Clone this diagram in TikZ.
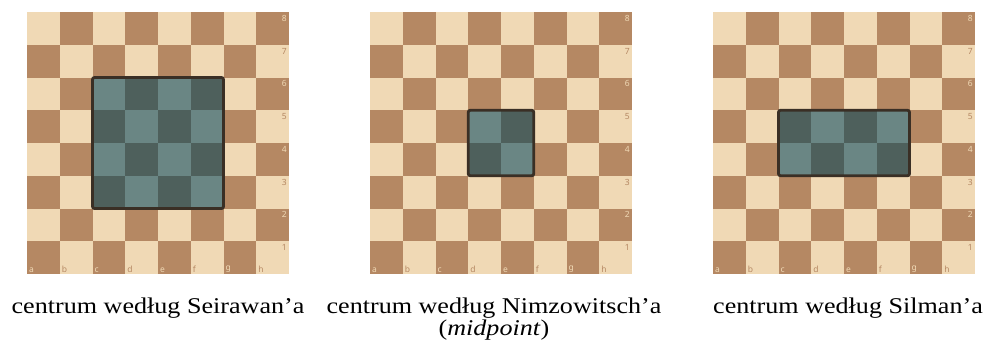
\documentclass[tikz,border=0pt]{standalone}
\usepackage{fontspec}
\usepackage{graphicx}
\setmainfont{Liberation Serif}
\newfontfamily\labfont{Noto Sans}
\definecolor{lsq}{HTML}{F0D9B5}
\definecolor{dsq}{HTML}{B58863}
\definecolor{lhl}{HTML}{6A8684}
\definecolor{dhl}{HTML}{4E605C}
\definecolor{hlborder}{HTML}{3A2F25}
\tikzset{
  sqlabel/.style={font=\labfont\fontsize{8.5}{9}\selectfont, inner sep=0pt},
  caption/.style={anchor=base, inner sep=0pt, font=\fontsize{22.5}{24}\selectfont},
  hlframe/.style={draw=hlborder, line width=2.8pt, rounded corners=2pt},
}
% #1 left x, #2 name, #3 fmin, #4 fmax, #5 rowmin, #6 rowmax (rows from top, 0-based)
\newcommand{\mychessboard}[6]{%
  \foreach \i in {0,...,7}{%
    \foreach \j in {0,...,7}{%
      \pgfmathtruncatemacro\sqpar{mod(\i+\j,2)}%
      \pgfmathtruncatemacro\inhl{and(and(\i>=#3,\i<=#4),and(\j>=#5,\j<=#6))}%
      \ifnum\inhl=1
        \ifnum\sqpar=0 \def\sqcol{lhl}\else\def\sqcol{dhl}\fi
      \else
        \ifnum\sqpar=0 \def\sqcol{lsq}\else\def\sqcol{dsq}\fi
      \fi
      \fill[\sqcol] ({#1+\i*\sq},{\bdtop+\j*\sq}) rectangle ({#1+(\i+1)*\sq+0.3},{\bdtop+(\j+1)*\sq+0.3});
    }%
  }%
  \draw[hlframe] ({#1+#3*\sq},{\bdtop+#5*\sq}) rectangle ({#1+(#4+1)*\sq},{\bdtop+(#6+1)*\sq});
  \foreach \i/\f in {0/a,1/b,2/c,3/d,4/e,5/f,6/g,7/h}{%
    \pgfmathtruncatemacro\sqpar{mod(\i+7,2)}%
    \ifnum\sqpar=0 \def\lcol{dsq}\else\def\lcol{lsq}\fi
    \node[sqlabel, text=\lcol, anchor=south west] (#2-\f) at ({#1+\i*\sq+2},{\bdtop+8*\sq-1.5}) {\f};
  }%
  \foreach \j in {0,...,7}{%
    \pgfmathtruncatemacro\sqpar{mod(7+\j,2)}%
    \pgfmathtruncatemacro\rk{8-\j}%
    \ifnum\sqpar=0 \def\lcol{dsq}\else\def\lcol{lsq}\fi
    \node[sqlabel, text=\lcol, anchor=north east] (#2-r\rk) at ({#1+8*\sq-2},{\bdtop+\j*\sq+3}) {\rk};
  }%
}
\begin{document}
\begin{tikzpicture}[x=1pt,y=-1pt]
\useasboundingbox[fill=white] (0,0) rectangle (987,349);
\def\sq{32.75}
\def\bdtop{12}
\mychessboard{27}{b1}{2}{5}{2}{5}
\mychessboard{370}{b2}{3}{4}{3}{4}
\mychessboard{713}{b3}{2}{5}{3}{4}
\node[caption] (cap1) at (158,313) {\scalebox{1.16}[1]{centrum według Seirawan’a}};
\node[caption] (cap2) at (494,313) {\scalebox{1.16}[1]{centrum według Nimzowitsch’a}};
\node[caption] (cap2b) at (494,335) {\scalebox{1.16}[1]{(\textit{midpoint})}};
\node[caption] (cap3) at (848,313) {\scalebox{1.16}[1]{centrum według Silman’a}};
\end{tikzpicture}
\end{document}
